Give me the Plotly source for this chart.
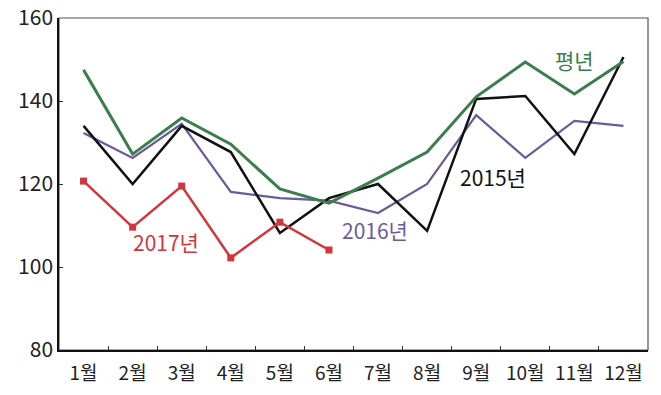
import plotly.graph_objects as go

months = ["1월", "2월", "3월", "4월", "5월", "6월", "7월", "8월", "9월", "10월", "11월", "12월"]
normal = [147.5, 127.2, 135.9, 129.6, 118.8, 115.4, 121.4, 127.7, 141.0, 149.4, 141.7, 149.5]
y2015 = [134.0, 120.0, 134.0, 127.7, 108.2, 116.6, 120.0, 108.7, 140.5, 141.2, 127.2, 150.6]
y2016 = [132.3, 126.3, 134.5, 118.1, 116.6, 116.0, 113.0, 120.0, 136.6, 126.3, 135.2, 134.0]
y2017 = [120.7, 109.6, 119.5, 102.2, 110.8, 104.1]
months2017 = months[:6]

y_ticks = [80, 100, 120, 140, 160]

FONT = "Noto Sans CJK KR"
GREEN = "#3b7d4c"
BLACK = "#111111"
PURPLE = "#6b5b98"
RED = "#d2353d"

fig = go.Figure()
fig.add_trace(go.Scatter(x=months, y=y2016, mode="lines",
                         line=dict(color=PURPLE, width=2.2), hoverinfo="skip"))
fig.add_trace(go.Scatter(x=months, y=y2015, mode="lines",
                         line=dict(color=BLACK, width=2.5), hoverinfo="skip"))
fig.add_trace(go.Scatter(x=months, y=normal, mode="lines",
                         line=dict(color=GREEN, width=3), hoverinfo="skip"))
fig.add_trace(go.Scatter(x=months2017, y=y2017, mode="lines+markers",
                         line=dict(color=RED, width=2.5),
                         marker=dict(symbol="square", size=7, color=RED),
                         hoverinfo="skip"))

labels = [
    ("평년", 10.0, 150.0, GREEN),
    ("2015년", 8.35, 121.7, BLACK),
    ("2016년", 5.94, 108.9, PURPLE),
    ("2017년", 1.69, 106.0, RED),
]
for text, x, y, c in labels:
    fig.add_annotation(x=x, y=y, text=text, showarrow=False,
                       font=dict(family=FONT, size=21, color=c),
                       xanchor="center", yanchor="middle")

fig.add_shape(type="rect", xref="paper", yref="paper", x0=0, y0=0, x1=1, y1=1,
              line=dict(color="#555555", width=1.2), layer="below")

fig.update_layout(
    width=661, height=395,
    margin=dict(l=59, r=13, t=18, b=45),
    paper_bgcolor="white", plot_bgcolor="white",
    showlegend=False,
    font=dict(family=FONT, size=18, color="#222222"),
)
fig.update_xaxes(
    type="category", range=[-0.5, 11.5], automargin=False,
    showgrid=False, zeroline=False,
    showline=True, linecolor="#111111", linewidth=1.5,
    ticks="inside", ticklen=4, tickcolor="#333333",
    tickson="boundaries", ticklabelstandoff=5,
    tickfont=dict(family=FONT, size=19, color="#222222"),
)
fig.update_yaxes(
    range=[80, 160], tickvals=y_ticks, automargin=False,
    showgrid=False, zeroline=False,
    showline=True, linecolor="#111111", linewidth=1.5,
    ticks="inside", ticklen=4, tickcolor="#333333",
    tickfont=dict(family=FONT, size=21, color="#222222"),
)

fig.write_html("out.html", config={"displayModeBar": False},
               post_script="document.body.style.margin='0';")
